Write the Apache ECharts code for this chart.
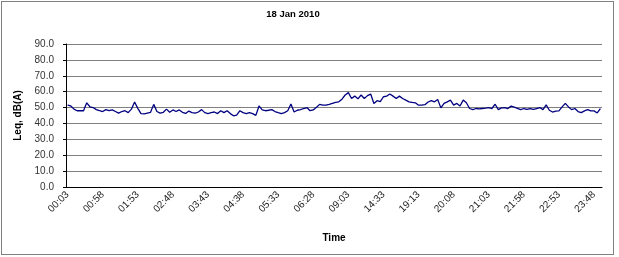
<!DOCTYPE html>
<html><head><meta charset="utf-8">
<script src="https://cdn.jsdelivr.net/npm/echarts@6/dist/echarts.min.js"></script>
<style>html,body{margin:0;padding:0;background:#fff}#c{width:619px;height:257px}</style>
</head><body><div id="c"></div>
<script>
const titleText = '18 Jan 2010';
const xName = 'Time';
const yName = 'Leq, dB(A)';
const categories = [
'00:03','00:08','00:13','00:18','00:23','00:28','00:33','00:38','00:43','00:48','00:53',
'00:58','01:03','01:08','01:13','01:18','01:23','01:28','01:33','01:38','01:43','01:48',
'01:53','01:58','02:03','02:08','02:13','02:18','02:23','02:28','02:33','02:38','02:43',
'02:48','02:53','02:58','03:03','03:08','03:13','03:18','03:23','03:28','03:33','03:38',
'03:43','03:48','03:53','03:58','04:03','04:08','04:13','04:18','04:23','04:28','04:33',
'04:38','04:43','04:48','04:53','04:58','05:03','05:08','05:13','05:18','05:23','05:28',
'05:33','05:38','05:43','05:48','05:53','05:58','06:03','06:08','06:13','06:18','06:23',
'06:28','06:33','06:38','06:43','06:58','07:13','07:33','07:53','08:13','08:33','08:48',
'09:03','09:33','10:03','10:33','11:03','11:33','12:03','12:33','13:03','13:33','14:03',
'14:33','15:03','15:33','16:03','16:33','17:03','17:33','18:03','18:33','18:53','19:08',
'19:13','19:18','19:23','19:28','19:33','19:38','19:43','19:48','19:53','19:58','20:03',
'20:08','20:13','20:18','20:23','20:28','20:33','20:38','20:43','20:48','20:53','20:58',
'21:03','21:08','21:13','21:18','21:23','21:28','21:33','21:38','21:43','21:48','21:53',
'21:58','22:03','22:08','22:13','22:18','22:23','22:28','22:33','22:38','22:43','22:48',
'22:53','22:58','23:03','23:08','23:13','23:18','23:23','23:28','23:33','23:38','23:43',
'23:48','23:53','23:58'
];
const leqNight1 = [51.5,51,49,48,48,48,53,50.5,50,48.7,48,47.5,48.7,48,48.5,47.5,46.5,47.5,48,46.8,49,53.5,49.5,46.2,46,46.5,47,52,47.5,46.5,47,49,47,48.5,47.5,48.5,47,46.3,47.8,46.8];
const leqNight2 = [46.5,47.2,48.7,46.8,46.2,46.8,47.2,46.2,48,46.8,48,46.2,44.8,45.2,48,46.8,46.2,46.8,46.2,45.1,51,48.5,48,48.3,48.7,47.5,46.8,46.2,46.8,48,52.2,47.2,48.3,48.7,49.4,50,48,48.5,50.2,52,51.5];
const leqDay = [51.5,52,52.6,53.2,53.6,55.3,57.9,59.4,55.7,57.2,55.5,57.9,55.7,57.5,58.5,52.6,54.3,53.8,56.8,57.2,58.5,57.2,55.7,57.2,55.7,54.7,53.6,53.2,53,51.5,51.5,51.8,53.5,54.3,53.6,55.1,49.8,52.6,53.6,54.7,51.5,52.6,51];
const leqEvening = [54.7,53,49.4,48.7,49.4,49.2,49.4,49.6,50,49.4,52.1,48.7,49.8,50,49.4,50.9,50.2,49.5,48.7,49.4,48.8,49.4,48.8,49.4,50,48.7,51.7,48.3,47.2,47.8,47.9,50.4,52.6,50.4,48.7,49.4,47.5,46.8,47.9,48.7,47.9,47.9,46.6,49.4];
const leqValues = [].concat(leqNight1, leqNight2, leqDay, leqEvening);

const FF = '"Liberation Sans", Arial, sans-serif';
const chart = echarts.init(document.getElementById('c'), null, {renderer: 'canvas'});
chart.setOption({
  animation: false,
  title: {
    text: titleText, left: 288, top: 4, textAlign: 'center',
    textStyle: {fontFamily: FF, fontSize: 9.5, fontWeight: 'bold', color: '#000'}
  },
  grid: {left: 66, right: 17, top: 44, bottom: 70, containLabel: false},
  xAxis: {
    type: 'category', data: categories, boundaryGap: true,
    axisLine: {lineStyle: {color: '#000', width: 1}},
    axisTick: {interval: 0, length: 3, lineStyle: {color: '#000'}},
    axisLabel: {interval: 10, rotate: 45, fontSize: 10, color: '#222', fontFamily: FF, margin: 6},
    splitLine: {show: false},
    name: xName, nameLocation: 'middle', nameGap: 46,
    nameTextStyle: {fontFamily: FF, fontSize: 10, fontWeight: 'bold', color: '#000'}
  },
  yAxis: {
    type: 'value', min: 0, max: 90, interval: 10,
    axisLine: {show: true, lineStyle: {color: '#000', width: 1}},
    axisTick: {show: true, length: 3, lineStyle: {color: '#000'}},
    splitLine: {lineStyle: {color: '#808080', width: 1}},
    axisLabel: {formatter: v => v.toFixed(1), fontSize: 10, color: '#333', fontFamily: FF, margin: 12},
    name: yName, nameLocation: 'middle', nameGap: 33, nameRotate: 90,
    nameTextStyle: {fontFamily: FF, fontSize: 10, fontWeight: 'bold', color: '#000'}
  },
  series: [{
    type: 'line', data: leqValues, symbol: 'none',
    lineStyle: {color: '#000080', width: 1.3}
  }],
  graphic: [{
    type: 'rect', silent: true,
    shape: {x: 1.5, y: 1.5, width: 612, height: 253},
    style: {fill: 'none', stroke: '#000', lineWidth: 1, lineDash: [1, 1]}
  }]
});
</script></body></html>
